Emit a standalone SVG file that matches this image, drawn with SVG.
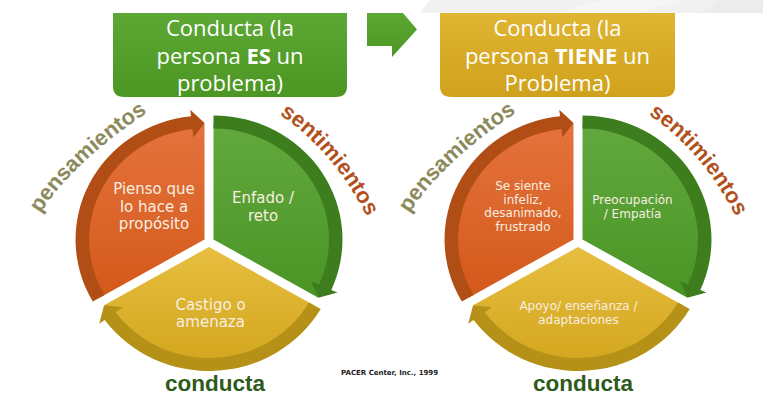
<svg xmlns="http://www.w3.org/2000/svg" xmlns:xlink="http://www.w3.org/1999/xlink" width="763" height="396" viewBox="0 0 763 396">
  <style>
    .title { font-family: "Open Sans", "DejaVu Sans", sans-serif; font-size: 22px; fill: #FFFFFF; text-anchor: middle; }
    .inner { font-family: "DejaVu Sans", Verdana, sans-serif; fill: #F8EEE2; text-anchor: middle; }
    .lab { font-family: "Liberation Sans", Arial, sans-serif; font-weight: bold; font-size: 22px; }
    .pens { fill: #8C8A5C; }
    .sent { fill: #B2501C; }
    .cond { fill: #2E5A1B; text-anchor: middle; font-size: 22.5px; }
    .credit { font-family: "DejaVu Sans", Verdana, sans-serif; font-weight: bold; font-size: 7px; fill: #222222; }
  </style>
  <defs>
    <linearGradient id="gBoxG" x1="0" y1="0" x2="0" y2="1"><stop offset="0" stop-color="#5DA735"/><stop offset="1" stop-color="#4C9623"/></linearGradient>
    <linearGradient id="gBoxY" x1="0" y1="0" x2="0" y2="1"><stop offset="0" stop-color="#DFB532"/><stop offset="1" stop-color="#D0A11C"/></linearGradient>
    <linearGradient id="gOr" x1="0" y1="0" x2="0" y2="1"><stop offset="0" stop-color="#E5733D"/><stop offset="1" stop-color="#D3591A"/></linearGradient>
    <linearGradient id="gGr" x1="0" y1="0" x2="0" y2="1"><stop offset="0" stop-color="#62A93D"/><stop offset="1" stop-color="#4A9425"/></linearGradient>
    <linearGradient id="gYe" x1="0" y1="0" x2="0" y2="1"><stop offset="0" stop-color="#E7BE40"/><stop offset="1" stop-color="#D3A61E"/></linearGradient>
    <path id="fillOr" d="M -4.33 -2.5 L -104.79 55.5 A 116 116 0 0 1 -4.33 -118.5 Z"/>
    <path id="fillGr" d="M 4.33 -2.5 L 4.33 -118.5 A 116 116 0 0 1 104.79 55.5 Z"/>
    <path id="fillYe" d="M 0 5 L 100.46 63 A 116 116 0 0 1 -100.46 63 Z"/>
    <path id="bandOr" d="M -111.71 59.5 A 124 124 0 0 1 -17.29 -125.82 L -17.97 -132.28 L -4.33 -119 L -15.04 -104.44 L -15.93 -112.89 A 111 111 0 0 0 -100.46 53 Z"/>
    <path id="bandGr" d="M 4.33 -126.5 A 124 124 0 0 1 117.61 47.94 L 123.55 50.58 L 105.22 55.75 L 97.97 39.19 L 105.73 42.65 A 111 111 0 0 0 4.33 -113.5 Z"/>
    <path id="bandYe" d="M 107.38 67 A 124 124 0 0 1 -100.32 77.89 L -105.58 81.71 L -100.89 63.25 L -82.92 65.25 L -89.8 70.24 A 111 111 0 0 0 96.13 60.5 Z"/>
    <path id="pPens" d="M 29.4 231 L 40 214 Q 71.5 163.5 148 112 L 164.6 100.8"/>
    <path id="pSent" d="M 266.6 105.5 L 283 117 Q 332.4 151.6 365 213 L 374.4 230.7"/>
  </defs>

  <g id="background">
    <rect x="0" y="0" width="763" height="396" fill="#FFFFFF"/>
    <polygon points="420,13 430,0 763,0 763,13" fill="#F1F1F1"/>
    <polygon points="560,13 600,0 680,0 640,13" fill="#F6F6F6"/>
    <polygon points="700,13 720,0 763,0 763,13" fill="#ECECEC"/>
  </g>

  <g id="header-left">
    <path d="M113 13 H347 V86 Q347 97 336 97 H124 Q113 97 113 86 Z" fill="url(#gBoxG)"/>
    <text class="title" x="230" y="36">Conducta (la</text>
    <text class="title" x="230" y="63.5">persona <tspan font-weight="bold">ES</tspan> un</text>
    <text class="title" x="230" y="91">problema)</text>
  </g>

  <g id="header-right">
    <path d="M440 13 H675 V86 Q675 97 664 97 H451 Q440 97 440 86 Z" fill="url(#gBoxY)"/>
    <text class="title" x="557.5" y="36">Conducta (la</text>
    <text class="title" x="557.5" y="63.5">persona <tspan font-weight="bold">TIENE</tspan> un</text>
    <text class="title" x="557.5" y="91">Problema)</text>
  </g>

  <!-- LEFT CYCLE -->
  <g id="left-pensamientos">
    <g transform="translate(209,242) scale(1.04,1)"><use href="#fillOr" fill="url(#gOr)"/></g>
    <text class="inner" font-size="15" x="154" y="194">Pienso que</text>
    <text class="inner" font-size="15" x="154" y="211.5">lo hace a</text>
    <text class="inner" font-size="15" x="154" y="228.5">propósito</text>
  </g>
  <g id="left-sentimientos">
    <g transform="translate(209,242) scale(1.04,1)"><use href="#fillGr" fill="url(#gGr)"/></g>
    <text class="inner" font-size="15" x="263" y="202.5">Enfado /</text>
    <text class="inner" font-size="15" x="263" y="220.5">reto</text>
  </g>
  <g id="left-conducta">
    <g transform="translate(209,242) scale(1.04,1)"><use href="#fillYe" fill="url(#gYe)"/></g>
    <text class="inner" font-size="15" x="210.5" y="310">Castigo o</text>
    <text class="inner" font-size="15" x="210.5" y="326.5">amenaza</text>
  </g>

  <!-- RIGHT CYCLE -->
  <g id="right-pensamientos">
    <g transform="translate(578,242) scale(1.04,1)"><use href="#fillOr" fill="url(#gOr)"/></g>
    <text class="inner" font-size="12" x="523" y="190">Se siente</text>
    <text class="inner" font-size="12" x="523" y="203.5">infeliz,</text>
    <text class="inner" font-size="12" x="523" y="217">desanimado,</text>
    <text class="inner" font-size="12" x="523" y="230.5">frustrado</text>
  </g>
  <g id="right-sentimientos">
    <g transform="translate(578,242) scale(1.04,1)"><use href="#fillGr" fill="url(#gGr)"/></g>
    <text class="inner" font-size="12" x="632.5" y="204">Preocupación</text>
    <text class="inner" font-size="12" x="632.5" y="217.5">/ Empatía</text>
  </g>
  <g id="right-conducta">
    <g transform="translate(578,242) scale(1.04,1)"><use href="#fillYe" fill="url(#gYe)"/></g>
    <text class="inner" font-size="12" x="578.5" y="310">Apoyo/ enseñanza /</text>
    <text class="inner" font-size="12" x="578.5" y="323.5">adaptaciones</text>
  </g>

  <g id="connectors">
    <g transform="translate(209,242) scale(1.04,1)">
      <use href="#bandOr" fill="#B04E16"/>
      <use href="#bandGr" fill="#3E7D1E"/>
      <use href="#bandYe" fill="#B59117"/>
    </g>
    <g transform="translate(578,242) scale(1.04,1)">
      <use href="#bandOr" fill="#B04E16"/>
      <use href="#bandGr" fill="#3E7D1E"/>
      <use href="#bandYe" fill="#B59117"/>
    </g>
    <polygon id="transition-arrow" points="367,13 403,13 417,29.5 392,57 392,46 367,46" fill="url(#gBoxG)"/>
  </g>

  <g id="labels-left">
    <text class="lab pens"><textPath href="#pPens" startOffset="50%" text-anchor="middle">pensamientos</textPath></text>
    <text class="lab sent"><textPath href="#pSent" startOffset="50%" text-anchor="middle">sentimientos</textPath></text>
    <text class="lab cond" x="215" y="391">conducta</text>
  </g>
  <g id="labels-right" transform="translate(369,0)">
    <text class="lab pens"><textPath href="#pPens" startOffset="50%" text-anchor="middle">pensamientos</textPath></text>
    <text class="lab sent"><textPath href="#pSent" startOffset="50%" text-anchor="middle">sentimientos</textPath></text>
    <text class="lab cond" x="214" y="391">conducta</text>
  </g>

  <text id="credit" class="credit" x="341" y="375">PACER Center, Inc., 1999</text>
</svg>
